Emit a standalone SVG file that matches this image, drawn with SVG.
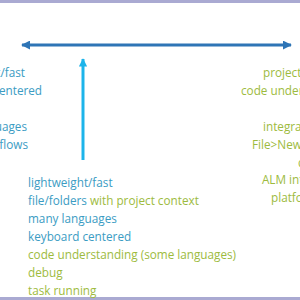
<svg xmlns="http://www.w3.org/2000/svg" width="300" height="300" viewBox="0 0 300 300">
<defs>
<style>
text{font-family:"Open Sans","Liberation Sans",sans-serif;font-size:13.5px}
.b{fill:#3b9cc3}
.g{fill:#9dbb3e}
.e{text-anchor:end}
</style>
<marker id="ha" viewBox="0 0 10 10" refX="9" refY="5" markerWidth="3.2" markerHeight="3" orient="auto-start-reverse" markerUnits="strokeWidth">
<path d="M0,0 L10,5 L0,10 z" fill="#2e75b6"/>
</marker>
<marker id="va" viewBox="0 0 10 10" refX="9" refY="5" markerWidth="3" markerHeight="2.8" orient="auto" markerUnits="strokeWidth">
<path d="M0,0 L10,5 L0,10 z" fill="#1db4ea"/>
</marker>
</defs>
<rect width="300" height="300" fill="#ffffff"/>
<rect x="0" y="0" width="300" height="3" fill="#aaaad2"/>
<rect x="0" y="297" width="300" height="3" fill="#aaaad2"/>
<g id="connectors">
<line x1="22" y1="45" x2="291" y2="45" stroke="#2e75b6" stroke-width="3" marker-start="url(#ha)" marker-end="url(#ha)"/>
<line x1="83" y1="160" x2="83" y2="59" stroke="#1db4ea" stroke-width="3" marker-end="url(#va)"/>
</g>
<g id="left" transform="scale(0.87 1)">
<text class="b e" x="28.7" y="77">lightweight/fast</text>
<text class="b e" x="48.3" y="95">keyboard centered</text>
<text class="b e" x="31" y="131">many languages</text>
<text class="b e" x="32.2" y="149">workflows</text>
</g>
<g id="right" transform="scale(0.87 1)">
<text class="g" x="302.3" y="77">project</text>
<text class="g" x="277" y="95">code understanding</text>
<text class="g" x="302.3" y="131">integrated</text>
<text class="g" x="289.7" y="149">File&gt;New</text>
<text class="g" x="342.5" y="167">d</text>
<text class="g" x="301.1" y="184">ALM int</text>
<text class="g" x="311.5" y="202">platform</text>
</g>
<g id="list" transform="translate(28 0) scale(0.87 1)">
<text class="b" x="0" y="187">lightweight/fast</text>
<text x="0" y="205"><tspan class="b">file/folders</tspan><tspan class="g"> with project context</tspan></text>
<text class="b" x="0" y="223">many languages</text>
<text class="b" x="0" y="241">keyboard centered</text>
<text class="g" x="0" y="259">code understanding (some languages)</text>
<text class="g" x="0" y="277">debug</text>
<text class="g" x="0" y="295">task running</text>
</g>
</svg>
